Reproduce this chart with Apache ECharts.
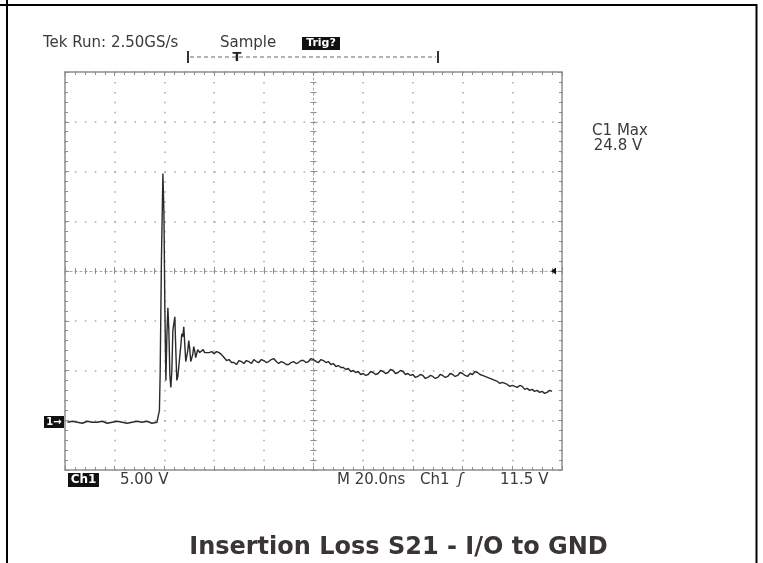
<!DOCTYPE html>
<html>
<head>
<meta charset="utf-8">
<title>Insertion Loss S21 - I/O to GND</title>
<script src="https://cdn.jsdelivr.net/npm/echarts@6.0.0/dist/echarts.min.js"></script>
<style>
  html, body { margin: 0; padding: 0; background: #fff; }
  #scope { width: 763px; height: 563px; }
</style>
</head>
<body>
<div id="scope"></div>
<script>
// scope settings: 20 ns/div over 10 div, 5 V/div over 8 div (ground one div up)
const timeRangeNs = [0, 200]
const timePerDiv = 20
const voltRange = [-5, 35]
const voltPerDiv = 5

// Ch1 trace
const traceTimeNs = [
  1, 3, 5, 7, 9, 11, 13, 15, 17, 19, 21, 23, 25, 27, 29, 31, 33, 35, 37,
  37.6, 38.0, 38.3, 38.8, 39.4, 39.8, 40.2,
  40.6, 41.0, 41.4, 41.8, 42.2, 42.6, 43.0, 43.4, 43.8, 44.2, 44.6, 45.0, 45.4,
  45.8, 46.2, 46.6, 47.0, 47.4, 47.8, 48.2, 48.6, 49.0, 49.4, 49.8, 50.2, 50.6,
  51.0, 51.4, 51.8, 52.2, 52.6, 53.0, 53.4, 53.8, 54.2, 54.6, 55.0, 55.6, 56.2,
  57, 58, 59, 60, 61, 62, 63, 64, 65, 66, 67,
  68, 69, 70, 71, 72, 73, 74, 75, 76, 77, 78, 79, 80, 81, 82, 83, 84, 85, 86, 87,
  88, 89, 90, 91, 92, 93, 94, 95, 96, 97, 98, 99, 100, 101, 102, 103, 104, 105, 106, 107,
  108, 109, 110, 111, 112, 113, 114, 115, 116, 117, 118, 119, 120, 121, 122, 123, 124, 125, 126, 127,
  128, 129, 130, 131, 132, 133, 134, 135, 136, 137, 138, 139, 140, 141, 142, 143, 144, 145, 146, 147,
  148, 149, 150, 151, 152, 153, 154, 155, 156, 157, 158, 159, 160, 161, 162, 163, 164, 165, 166, 167,
  168, 169, 170, 171, 172, 173, 174, 175, 176, 177, 178, 179, 180, 181, 182, 183, 184, 185, 186, 187,
  188, 189, 190, 191, 192, 193, 194, 195, 196
]
const traceVolts = [
  -0.2, -0.1, -0.2, -0.3, -0.1, -0.2, -0.2, -0.1, -0.3, -0.2, -0.1, -0.2, -0.3, -0.2, -0.1, -0.2, -0.1, -0.3, -0.2,
  -0.2, 1.0, 4.8, 16.0, 24.8, 21.0, 11.0,
  4.0, 8.5, 11.3, 9.0, 4.5, 3.3, 5.0, 9.0, 9.2, 10.4, 7.0, 4.0, 4.4,
  5.4, 5.2, 7.5, 8.7, 8.4, 9.4, 7.6, 5.9, 5.7, 7.0, 8.0, 7.2, 5.9,
  5.7, 6.6, 7.4, 7.0, 6.3, 6.4, 7.1, 7.2, 6.8, 7.0, 6.9, 7.1, 6.8,
  7.0, 6.8, 6.9, 6.7, 6.9, 6.8, 6.6, 6.3, 6.0, 6.1, 5.8,
  5.8, 5.6, 6.0, 5.9, 5.7, 6.0, 5.9, 5.7, 6.1, 5.9, 5.8, 6.1, 6.0, 5.8, 5.9, 6.1, 6.2, 5.9, 5.7, 5.9,
  5.8, 5.6, 5.6, 5.8, 5.9, 5.7, 5.8, 6.0, 6.0, 5.8, 5.9, 6.2, 6.1, 5.9, 5.8, 6.1, 6.0, 5.8, 5.9, 5.6,
  5.7, 5.4, 5.5, 5.3, 5.3, 5.1, 5.2, 4.9, 5.0, 4.8, 4.9, 4.6, 4.7, 4.5, 4.6, 4.9, 4.8, 4.6, 4.7, 5.0,
  4.9, 4.7, 4.8, 5.1, 5.0, 4.7, 4.8, 5.0, 4.9, 4.6, 4.7, 4.5, 4.6, 4.3, 4.4, 4.6, 4.5, 4.2, 4.3, 4.5,
  4.4, 4.2, 4.3, 4.6, 4.5, 4.3, 4.4, 4.7, 4.6, 4.4, 4.5, 4.8, 4.7, 4.5, 4.4, 4.7, 4.6, 4.9, 4.8, 4.6,
  4.5, 4.4, 4.3, 4.2, 4.1, 4.0, 3.9, 3.7, 3.8, 3.7, 3.6, 3.4, 3.5, 3.4, 3.3, 3.5, 3.4, 3.1, 3.2, 3.0,
  3.1, 2.9, 3.0, 2.8, 2.9, 2.7, 2.8, 3.0, 2.9
]

// screen readouts
const headerTexts = ['Tek Run: 2.50GS/s', 'Sample', 'Trig?']
const maxTexts = ['C1 Max', '24.8 V']
const footerTexts = ['Ch1', '5.00 V', 'M 20.0ns', 'Ch1', '\u0283', '11.5 V']
const captionText = 'Insertion Loss S21 - I/O to GND'

const gridColor = '#8e8e8e'
const dotColor = '#a6a6a6'
const textColor = '#3a3a3a'
const scopeFont = '15px "DejaVu Sans"'

function timeAxis(extra) {
  return Object.assign({
    type: 'value',
    min: timeRangeNs[0],
    max: timeRangeNs[1],
    interval: timePerDiv,
    axisLine: { show: true, onZero: false, lineStyle: { color: gridColor, width: 1.5 } },
    axisTick: { show: true, inside: true, length: 4, lineStyle: { color: gridColor } },
    minorTick: { show: true, splitNumber: 5, length: 3, lineStyle: { color: gridColor } },
    axisLabel: { show: false },
    splitLine: { show: false }
  }, extra)
}

function voltAxis(extra) {
  return Object.assign({
    type: 'value',
    min: voltRange[0],
    max: voltRange[1],
    interval: voltPerDiv,
    axisLine: { show: true, onZero: false, lineStyle: { color: gridColor, width: 1.5 } },
    axisTick: { show: true, inside: true, length: 4, lineStyle: { color: gridColor } },
    minorTick: { show: true, splitNumber: 5, length: 3, lineStyle: { color: gridColor } },
    axisLabel: { show: false },
    splitLine: { show: false }
  }, extra)
}

const dotted = { color: dotColor, width: 1.5, type: [1.5, 8.44] }
const centreLine = { color: dotColor, width: 1, type: [2, 3] }

function txt(text, x, y, opts) {
  return {
    type: 'text',
    x: x,
    y: y,
    z: 20,
    style: Object.assign({
      text: text,
      font: scopeFont,
      fill: textColor,
      textAlign: 'left',
      textVerticalAlign: 'middle'
    }, opts || {})
  }
}
function box(x, y, w, h) {
  return { type: 'rect', z: 19, shape: { x: x, y: y, width: w, height: h }, style: { fill: '#111' } }
}
function seg(x1, y1, x2, y2, style) {
  return {
    type: 'line', z: 20,
    shape: { x1: x1, y1: y1, x2: x2, y2: y2 },
    style: Object.assign({ stroke: '#000', lineWidth: 2 }, style || {})
  }
}

const chart = echarts.init(document.getElementById('scope'), null, { renderer: 'canvas' })

chart.setOption({
  animation: false,
  backgroundColor: '#fff',
  grid: { left: 65, top: 72, width: 497, height: 398, outerBoundsMode: 'none' },
  xAxis: [
    timeAxis({ position: 'bottom', splitLine: { show: true, lineStyle: dotted } }),
    timeAxis({ position: 'top' }),
    timeAxis({ position: 'bottom', offset: -199, axisLine: { show: true, onZero: false, lineStyle: centreLine } }),
    timeAxis({ position: 'bottom', offset: -199, axisLine: { show: false, onZero: false },
      axisTick: { show: true, inside: false, length: 3, lineStyle: { color: gridColor } } })
  ],
  yAxis: [
    voltAxis({ position: 'left', splitLine: { show: true, lineStyle: dotted } }),
    voltAxis({ position: 'right' }),
    voltAxis({ position: 'left', offset: -248.5, axisLine: { show: true, onZero: false, lineStyle: centreLine } }),
    voltAxis({ position: 'left', offset: -248.5, axisLine: { show: false, onZero: false },
      axisTick: { show: true, inside: false, length: 3, lineStyle: { color: gridColor } } })
  ],
  series: [
    {
      name: 'Ch1',
      type: 'line',
      xAxisIndex: 0,
      yAxisIndex: 0,
      showSymbol: false,
      symbol: 'none',
      silent: true,
      z: 5,
      lineStyle: { color: '#2a2a2a', width: 1.4 },
      data: traceTimeNs.map((t, i) => [t, traceVolts[i]])
    }
  ],
  graphic: [
    // table frame round the picture
    seg(0, 5, 757, 5),
    seg(7, 0, 7, 563),
    seg(756.5, 4, 756.5, 563),

    // header readout
    txt(headerTexts[0], 43, 43),
    txt(headerTexts[1], 220, 43),
    box(302, 37, 38, 13),
    txt(headerTexts[2], 321, 43.5, { fill: '#fff', font: 'bold 11px "DejaVu Sans"', textAlign: 'center' }),

    // record window bracket
    seg(188, 51, 188, 63, { stroke: '#333', lineWidth: 2 }),
    seg(438, 51, 438, 63, { stroke: '#333', lineWidth: 2 }),
    seg(190, 57, 436, 57, { stroke: '#666', lineWidth: 1, lineDash: [4, 3] }),
    txt('T', 237, 58, { font: 'bold 13px "DejaVu Sans"', textAlign: 'center', fill: '#222' }),

    // measurement
    txt(maxTexts[0], 620, 131.5, { textAlign: 'center' }),
    txt(maxTexts[1], 618, 146.5, { textAlign: 'center' }),

    // ground and trigger level markers
    box(44, 416, 20, 12),
    txt('1\u2192', 54, 422, { fill: '#fff', font: 'bold 10px "DejaVu Sans"', textAlign: 'center' }),
    { type: 'polygon', z: 20, shape: { points: [[551, 271], [556, 267.5], [556, 274.5]] }, style: { fill: '#111' } },

    // footer readout
    box(68, 473, 31, 14),
    txt(footerTexts[0], 83.5, 480, { fill: '#fff', font: 'bold 12px "DejaVu Sans"', textAlign: 'center' }),
    txt(footerTexts[1], 120, 480),
    txt(footerTexts[2], 337, 480),
    txt(footerTexts[3], 420, 480),
    txt(footerTexts[4], 458, 480, { font: 'italic 15px "DejaVu Sans"' }),
    txt(footerTexts[5], 500, 480),

    // caption under the screen
    txt(captionText, 398.5, 548, {
      font: 'bold 24px "DejaVu Sans"', fill: '#3b3434', textAlign: 'center'
    })
  ]
})
</script>
</body>
</html>
